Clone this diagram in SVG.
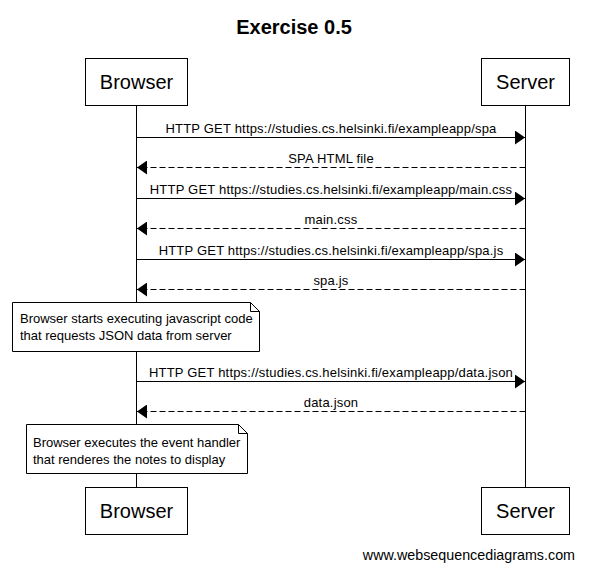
<svg xmlns="http://www.w3.org/2000/svg" width="602" height="570" viewBox="0 0 602 570">
<defs>
<style>
text{font-family:"Liberation Sans",Arial,sans-serif;fill:#000}
.title{font-size:20px;font-weight:bold;text-anchor:middle}
.part{font-size:20px;text-anchor:middle}
.lbl{font-size:13px;letter-spacing:0.2px;text-anchor:middle}
.note{font-size:13px}
.box{fill:#fff;stroke:#000;stroke-width:1}
.life{stroke:#000;stroke-width:1;fill:none}
.msg{stroke:#000;stroke-width:1;fill:none}
.ret{stroke:#000;stroke-width:1;fill:none;stroke-dasharray:6,3}
.wm{font-size:14.3px;text-anchor:end}
</style>
<marker id="ah" viewBox="0 0 10 14" refX="10" refY="7" markerWidth="10" markerHeight="14" markerUnits="userSpaceOnUse" orient="auto">
<path d="M0,0 L10,7 L0,14 Z" fill="#000"/>
</marker>
</defs>
<rect width="602" height="570" fill="#fff"/>
<text class="title" x="294" y="34">Exercise 0.5</text>
<g id="lifelines">
<line class="life" x1="136.5" y1="106" x2="136.5" y2="487"/>
<line class="life" x1="525.5" y1="106" x2="525.5" y2="487"/>
</g>
<g id="browser-top"><rect class="box" x="85.5" y="58.5" width="102" height="47"/><text class="part" x="136.5" y="89">Browser</text></g>
<g id="server-top"><rect class="box" x="481.5" y="58.5" width="88" height="47"/><text class="part" x="525.5" y="89">Server</text></g>
<g id="browser-bottom"><rect class="box" x="85.5" y="487.5" width="102" height="47"/><text class="part" x="136.5" y="518">Browser</text></g>
<g id="server-bottom"><rect class="box" x="481.5" y="487.5" width="88" height="47"/><text class="part" x="525.5" y="518">Server</text></g>
<g id="connectors">
<line class="msg" x1="136.5" y1="137.5" x2="525" y2="137.5" marker-end="url(#ah)"/>
<text class="lbl" x="331" y="133">HTTP GET https://studies.cs.helsinki.fi/exampleapp/spa</text>
<line class="ret" x1="525.5" y1="167.5" x2="137" y2="167.5" marker-end="url(#ah)"/>
<text class="lbl" x="331" y="163">SPA HTML file</text>
<line class="msg" x1="136.5" y1="198.5" x2="525" y2="198.5" marker-end="url(#ah)"/>
<text class="lbl" x="331" y="194">HTTP GET https://studies.cs.helsinki.fi/exampleapp/main.css</text>
<line class="ret" x1="525.5" y1="228.5" x2="137" y2="228.5" marker-end="url(#ah)"/>
<text class="lbl" x="331" y="224">main.css</text>
<line class="msg" x1="136.5" y1="259.5" x2="525" y2="259.5" marker-end="url(#ah)"/>
<text class="lbl" x="331" y="255">HTTP GET https://studies.cs.helsinki.fi/exampleapp/spa.js</text>
<line class="ret" x1="525.5" y1="289.5" x2="137" y2="289.5" marker-end="url(#ah)"/>
<text class="lbl" x="331" y="285">spa.js</text>
<line class="msg" x1="136.5" y1="381.5" x2="525" y2="381.5" marker-end="url(#ah)"/>
<text class="lbl" x="331" y="377">HTTP GET https://studies.cs.helsinki.fi/exampleapp/data.json</text>
<line class="ret" x1="525.5" y1="411.5" x2="137" y2="411.5" marker-end="url(#ah)"/>
<text class="lbl" x="331" y="407">data.json</text>
</g>
<g id="note1">
<path class="box" d="M12.5,302.5 H250.5 L259.5,311.5 V351.5 H12.5 Z"/>
<path class="life" d="M250.5,302.5 V311.5 H259.5"/>
<text class="note" x="20" y="323">Browser starts executing javascript code</text>
<text class="note" x="20" y="340">that requests JSON data from server</text>
</g>
<g id="note2">
<path class="box" d="M26.5,424.5 H238.5 L247.5,433.5 V473.5 H26.5 Z"/>
<path class="life" d="M238.5,424.5 V433.5 H247.5"/>
<text class="note" x="33" y="447">Browser executes the event handler</text>
<text class="note" x="33" y="464">that renderes the notes to display</text>
</g>
<text class="wm" x="575" y="560">www.websequencediagrams.com</text>
</svg>
